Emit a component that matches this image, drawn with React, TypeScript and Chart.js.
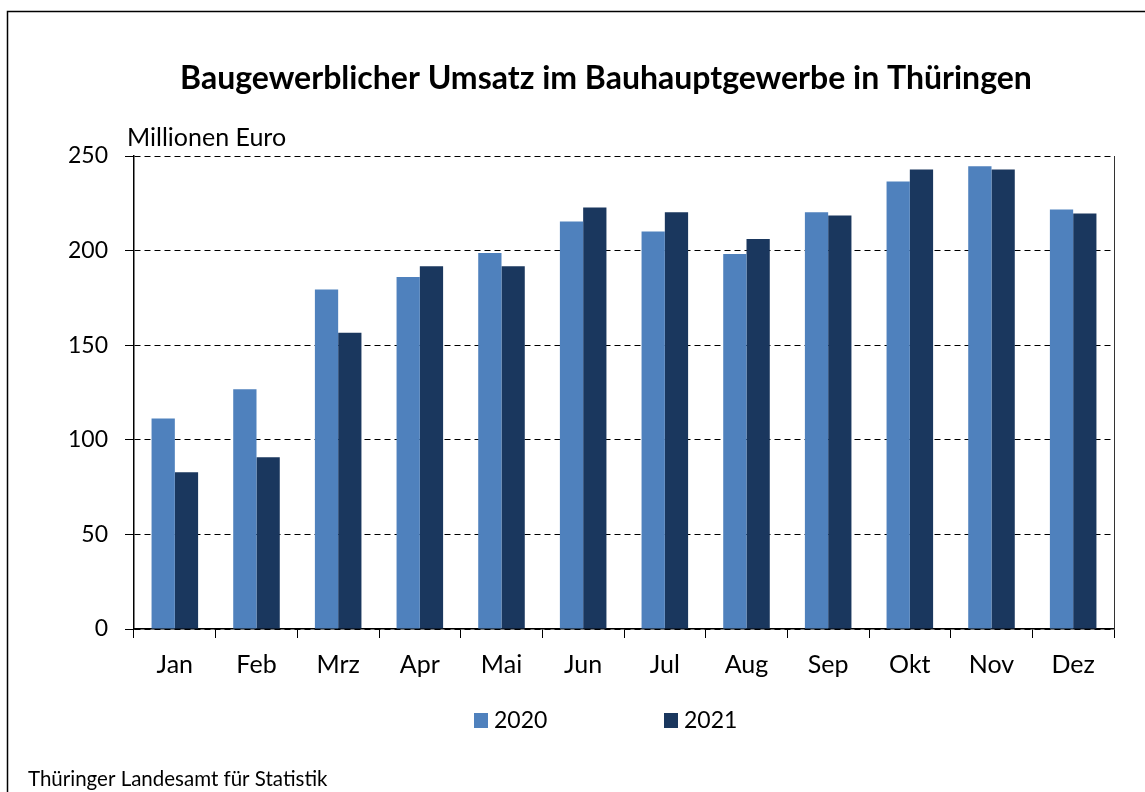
import React, { useEffect, useRef } from "react";
import { Chart, registerables } from "chart.js";

Chart.register(...registerables);

const categories = ["Jan", "Feb", "Mrz", "Apr", "Mai", "Jun", "Jul", "Aug", "Sep", "Okt", "Nov", "Dez"];
const values2020 = [111.2, 126.7, 179.5, 186.0, 198.7, 215.4, 210.1, 198.2, 220.3, 236.5, 244.6, 221.7];
const values2021 = [82.9, 90.8, 156.6, 191.7, 191.7, 222.8, 220.3, 206.1, 218.6, 242.9, 242.9, 219.6];
const seriesLabels = ["2020", "2021"];
const seriesColors = ["#4F81BD", "#1A375E"];
const yMin = 0;
const yMax = 250;
const yStep = 50;
const titleText = "Baugewerblicher Umsatz im Bauhauptgewerbe in Thüringen";
const unitText = "Millionen Euro";
const sourceText = "Thüringer Landesamt für Statistik";

const FONT = "Lato";

const decorPlugin = {
  id: "decor",
  afterDraw(chart: any) {
    const ctx = chart.ctx;
    const area = chart.chartArea;
    ctx.save();
    // outer frame
    ctx.strokeStyle = "#000";
    ctx.lineWidth = 1.5;
    ctx.strokeRect(7.5, 11.5, 1160, 800);
    // right border of plot
    ctx.strokeStyle = "#333";
    ctx.lineWidth = 1;
    ctx.beginPath();
    ctx.moveTo(Math.round(area.right) + 0.5, area.top);
    ctx.lineTo(Math.round(area.right) + 0.5, area.bottom);
    ctx.stroke();
    // title
    ctx.fillStyle = "#000";
    ctx.textBaseline = "alphabetic";
    ctx.textAlign = "center";
    ctx.font = `bold 32px ${FONT}`;
    ctx.fillText(titleText, 606, 89);
    // unit
    ctx.textAlign = "left";
    ctx.font = `25px ${FONT}`;
    ctx.fillText(unitText, 127, 146);
    // source
    ctx.font = `20.5px ${FONT}`;
    ctx.fillText(sourceText, 28, 786);
    // legend
    const ds = chart.data.datasets;
    const xs = [474, 664];
    ctx.font = `23px ${FONT}`;
    ctx.textBaseline = "middle";
    ds.forEach((d: any, i: number) => {
      ctx.fillStyle = d.backgroundColor;
      ctx.fillRect(xs[i], 713, 14, 15);
      ctx.fillStyle = "#000";
      ctx.fillText(d.label, xs[i] + 20, 721);
    });
    ctx.restore();
  },
};

export default function App() {
  const ref = useRef<HTMLCanvasElement>(null);
  useEffect(() => {
    if (!ref.current) return;
    const chart = new Chart(ref.current, {
      type: "bar",
      data: {
        labels: categories,
        datasets: [
          { label: seriesLabels[0], data: values2020, backgroundColor: seriesColors[0] },
          { label: seriesLabels[1], data: values2021, backgroundColor: seriesColors[1] },
        ],
      },
      options: {
        animation: false,
        responsive: false,
        devicePixelRatio: 1,
        layout: { padding: { top: 156, left: 0, right: 31, bottom: 103 } },
        datasets: { bar: { categoryPercentage: 0.57, barPercentage: 1.0 } },
        plugins: { legend: { display: false }, title: { display: false }, tooltip: { enabled: false } },
        scales: {
          x: {
            afterFit: (s: any) => { s.height = 60; },
            grid: { drawOnChartArea: false, drawTicks: true, tickLength: 9, color: "#000", tickColor: "#000", offset: true },
            border: { display: true, color: "#000", width: 1.5 },
            ticks: { color: "#000", font: { family: FONT, size: 25 }, padding: 12 },
          },
          y: {
            min: yMin,
            max: yMax,
            afterFit: (s: any) => { s.width = 134; },
            grid: { color: "#000", lineWidth: 1, tickLength: 9, tickColor: "#000", tickBorderDash: [] },
            border: { display: true, color: "#000", width: 1.5, dash: [6, 4] },
            ticks: { stepSize: yStep, color: "#000", font: { family: FONT, size: 23 }, padding: 17 },
          },
        },
      },
      plugins: [decorPlugin],
    });
    return () => chart.destroy();
  }, []);
  return (
    <div style={{ position: "absolute", left: 0, top: 0, width: 1145, height: 792, background: "#fff" }}>
      <canvas ref={ref} width={1145} height={792} style={{ display: "block" }} />
    </div>
  );
}
